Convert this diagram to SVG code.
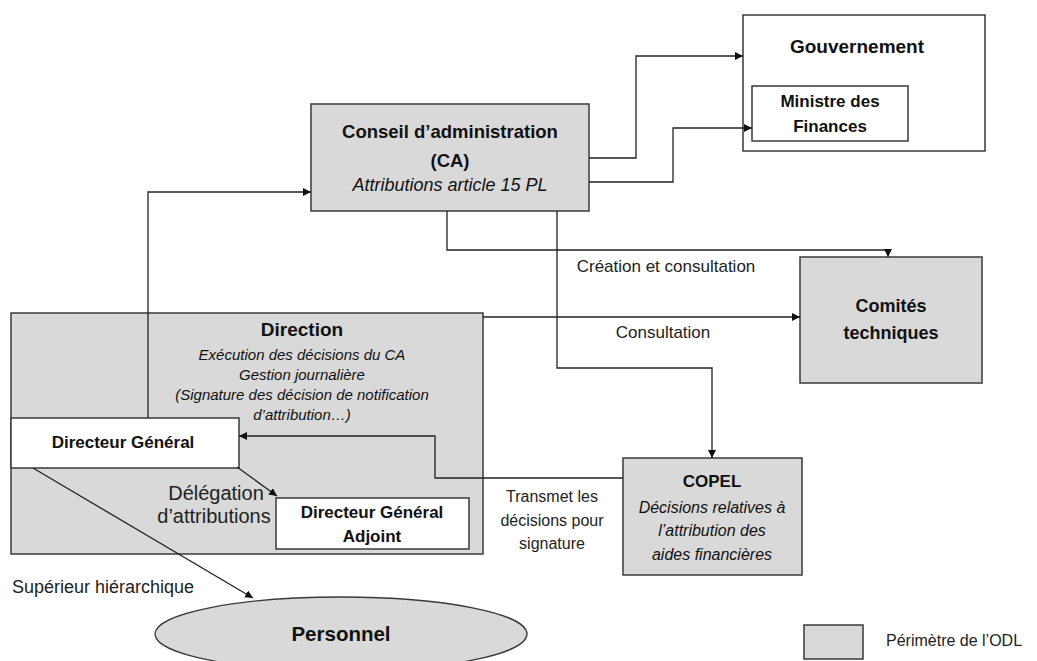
<svg xmlns="http://www.w3.org/2000/svg" width="1037" height="661" viewBox="0 0 1037 661">
<defs>
<marker id="arr" markerUnits="userSpaceOnUse" markerWidth="9" markerHeight="8" refX="8" refY="4" orient="auto">
<path d="M0,0 L8,4 L0,8 z" fill="#111"/>
</marker>
<style>
text{font-family:"Liberation Sans",Arial,sans-serif;fill:#111;text-anchor:middle}
.b{font-weight:bold}
.i{font-style:italic}
.lbl{fill:#222}
.gray{fill:#d9d9d9;stroke:#3a3a3a;stroke-width:1.5}
.white{fill:#fff;stroke:#3a3a3a;stroke-width:1.5}
.conn path{fill:none;stroke:#222;stroke-width:1.3;marker-end:url(#arr)}
</style>
</defs>
<rect width="1037" height="661" fill="#fff"/>

<g id="direction">
<rect class="gray" x="11" y="313" width="472" height="241"/>
<text class="b" x="302" y="336" font-size="19">Direction</text>
<text class="i" x="302" y="360" font-size="15">Exécution des décisions du CA</text>
<text class="i" x="302" y="380" font-size="15">Gestion journalière</text>
<text class="i" x="302" y="400" font-size="15">(Signature des décision de notification</text>
<text class="i" x="302" y="420" font-size="15">d’attribution…)</text>
</g>

<g id="dg">
<rect class="white" x="11" y="418" width="228" height="50"/>
<text class="b" x="123" y="448" font-size="17">Directeur Général</text>
</g>

<g id="dga">
<rect class="white" x="276" y="498" width="193" height="51"/>
<text class="b" x="372" y="518" font-size="17">Directeur Général</text>
<text class="b" x="372" y="542" font-size="17">Adjoint</text>
</g>

<g id="ca">
<rect class="gray" x="311" y="104" width="278" height="107"/>
<text class="b" x="450" y="138" font-size="18.5">Conseil d’administration</text>
<text class="b" x="450" y="167" font-size="18.5">(CA)</text>
<text class="i" x="450" y="191" font-size="18">Attributions article 15 PL</text>
</g>

<g id="gouvernement">
<rect class="white" x="743" y="15" width="242" height="136"/>
<text class="b" x="857" y="53" font-size="19">Gouvernement</text>
</g>

<g id="ministre">
<rect class="white" x="752" y="86" width="156" height="55"/>
<text class="b" x="830" y="107" font-size="17">Ministre des</text>
<text class="b" x="830" y="132" font-size="17">Finances</text>
</g>

<g id="comites">
<rect class="gray" x="800" y="257" width="182" height="126"/>
<text class="b" x="891" y="312" font-size="18">Comités</text>
<text class="b" x="891" y="339" font-size="18">techniques</text>
</g>

<g id="copel">
<rect class="gray" x="623" y="458" width="179" height="117"/>
<text class="b" x="712" y="487" font-size="17">COPEL</text>
<text class="i" x="712" y="513" font-size="16">Décisions relatives à</text>
<text class="i" x="712" y="536" font-size="16">l’attribution des</text>
<text class="i" x="712" y="560" font-size="16">aides financières</text>
</g>

<g id="personnel">
<ellipse cx="341" cy="634" rx="186" ry="37" fill="#d9d9d9" stroke="#3a3a3a" stroke-width="1.3"/>
<text class="b" x="341" y="641" font-size="20.5">Personnel</text>
</g>

<g id="legend">
<rect class="gray" x="804" y="625" width="59" height="34" stroke-width="1.2"/>
<text class="lbl" x="886" y="646" font-size="16" style="text-anchor:start">Périmètre de l’ODL</text>
</g>

<g id="connectors" class="conn">
<path d="M589,158 H636 V56 H743"/>
<path d="M589,182 H673 V128 H752"/>
<path d="M447,211 V250 H888 V257"/>
<path d="M557,211 V368 H712 V458"/>
<path d="M483,317 H800"/>
<path d="M623,478 H435 V436 H239"/>
<path d="M148,418 V192 H311"/>
<path d="M237,467 L277,496"/>
<path d="M33,468 L253,598"/>
</g>

<g id="labels">
<text class="lbl" x="666" y="272" font-size="17">Création et consultation</text>
<text class="lbl" x="663" y="338" font-size="17">Consultation</text>
<text class="lbl" x="216" y="500" font-size="20">Délégation</text>
<text class="lbl" x="214" y="523" font-size="20">d’attributions</text>
<text class="lbl" x="552" y="502" font-size="16">Transmet les</text>
<text class="lbl" x="552" y="526" font-size="16">décisions pour</text>
<text class="lbl" x="552" y="549" font-size="16">signature</text>
<text class="lbl" x="12" y="593" font-size="18" style="text-anchor:start">Supérieur hiérarchique</text>
</g>
</svg>
